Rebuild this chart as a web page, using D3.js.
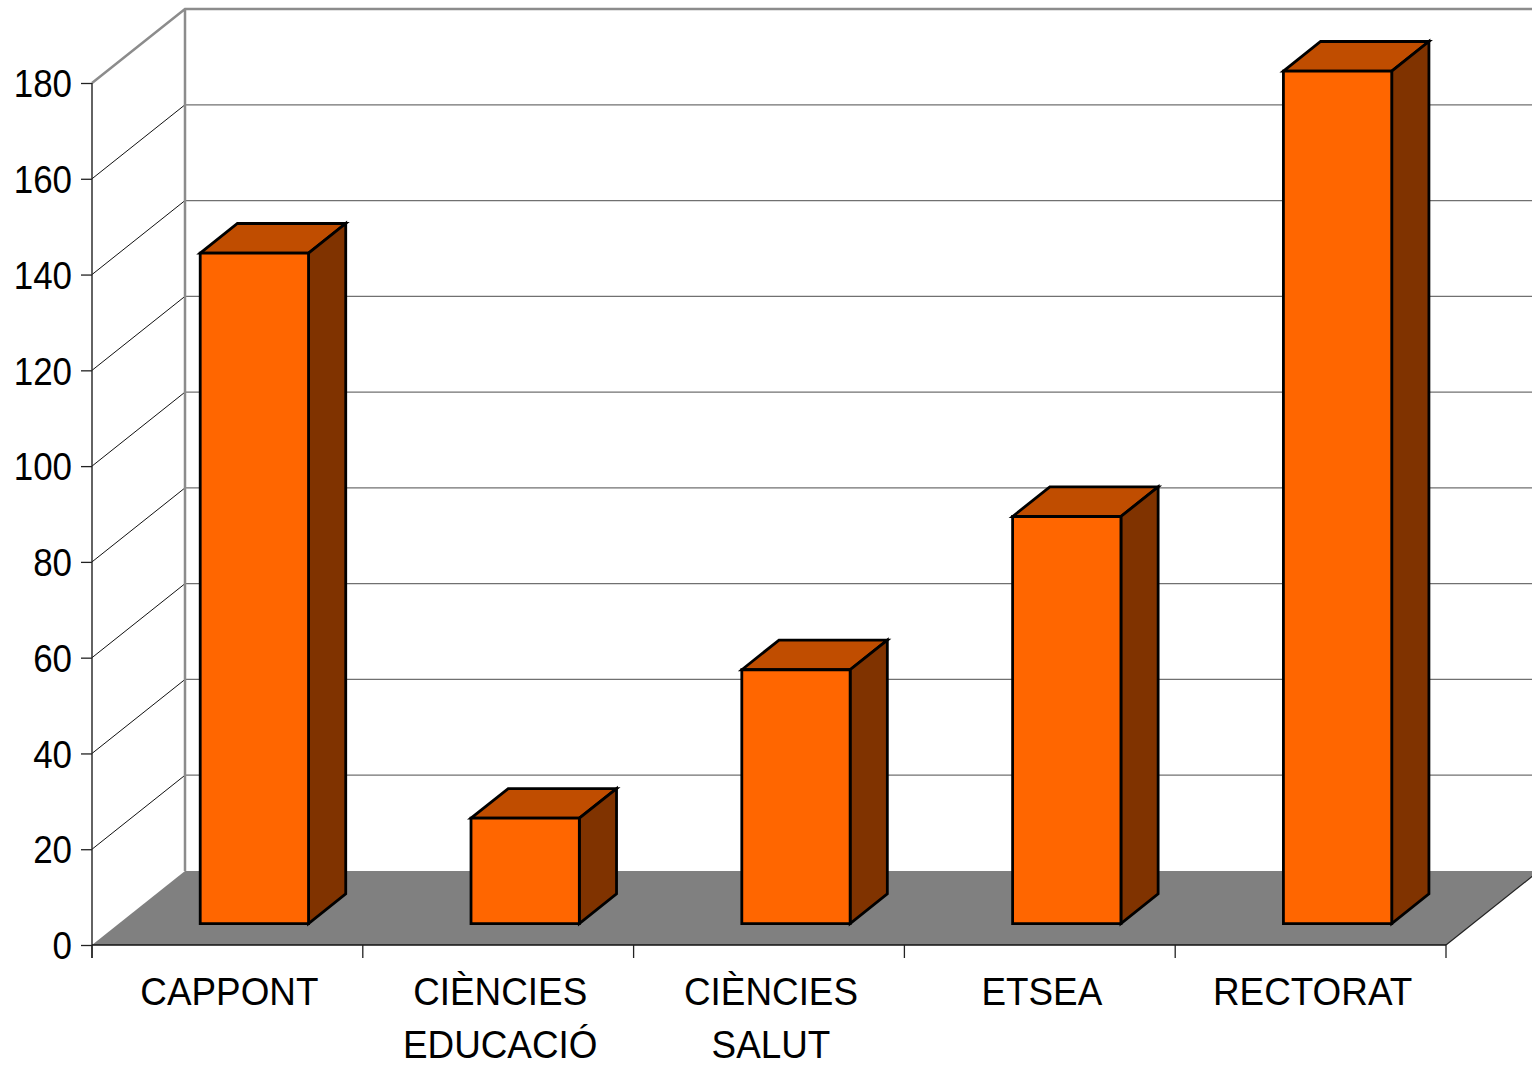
<!DOCTYPE html>
<html>
<head>
<meta charset="utf-8">
<script src="https://cdn.jsdelivr.net/npm/d3@7"></script>
<style>
    body { margin: 0; background: #fff; }
    text { font-family: "Liberation Sans", Arial, sans-serif; }
</style>
</head>
<body>
<div id="chart"></div>
<script>
var categories = ['CAPPONT', 'CIÈNCIES EDUCACIÓ', 'CIÈNCIES SALUT', 'ETSEA', 'RECTORAT'];
var values = [140, 22, 53, 85, 178];
var yTicks = [0, 20, 40, 60, 80, 100, 120, 140, 160, 180];

var width = 1532, height = 1066;
// oblique projection of the depth axis (z = 0 front, z = 1 back wall)
var DEPTH_X = 93, DEPTH_Y = -74;
var BAR_Z0 = 0.29, BAR_Z1 = 0.69;

var svg = d3.select('#chart').append('svg')
    .attr('width', width)
    .attr('height', height);

var x = d3.scaleBand()
    .domain(categories)
    .range([92, 1446])
    .paddingInner(0)
    .paddingOuter(0);

var y = d3.scaleLinear()
    .domain([0, 180])
    .range([945, 83]);

function proj(px, v, z) {
    return [px + z * DEPTH_X, y(v) + z * DEPTH_Y];
}

function poly(points) {
    return 'M' + points.map(function(p) { return p[0] + ',' + p[1]; }).join('L') + 'Z';
}

var x0 = x.range()[0], x1 = x.range()[1];

// floor
svg.append('path')
    .attr('d', poly([proj(x0, 0, 0), proj(x0, 0, 1), proj(x1, 0, 1), proj(x1, 0, 0)]))
    .attr('fill', '#808080');
svg.append('line')
    .attr('x1', proj(x1, 0, 0)[0]).attr('y1', proj(x1, 0, 0)[1])
    .attr('x2', proj(x1, 0, 1)[0]).attr('y2', proj(x1, 0, 1)[1])
    .attr('stroke', '#222').attr('stroke-width', 1.2);

// back wall grid lines
svg.append('g').selectAll('line')
    .data(yTicks.filter(function(v) { return v > 0 && v < 180; }))
    .enter().append('line')
    .attr('x1', function(v) { return proj(x0, v, 1)[0]; })
    .attr('y1', function(v) { return proj(x0, v, 1)[1]; })
    .attr('x2', width)
    .attr('y2', function(v) { return proj(x0, v, 1)[1]; })
    .attr('stroke', '#707070')
    .attr('stroke-width', 1.3);

// side wall diagonals
svg.append('g').selectAll('line')
    .data(yTicks.filter(function(v) { return v > 0 && v < 180; }))
    .enter().append('line')
    .attr('x1', function(v) { return proj(x0, v, 0)[0]; })
    .attr('y1', function(v) { return proj(x0, v, 0)[1]; })
    .attr('x2', function(v) { return proj(x0, v, 1)[0]; })
    .attr('y2', function(v) { return proj(x0, v, 1)[1]; })
    .attr('stroke', '#111')
    .attr('stroke-width', 1);

// wall outline
var top0 = proj(x0, 180, 0), top1 = proj(x0, 180, 1), bot1 = proj(x0, 0, 1);
svg.append('path')
    .attr('d', 'M' + top0 + 'L' + top1 + 'L' + (width + 5) + ',' + top1[1] + 'M' + top1 + 'L' + bot1)
    .attr('fill', 'none')
    .attr('stroke', '#8c8c8c')
    .attr('stroke-width', 2.5);

// bars
var bar = svg.append('g').selectAll('g')
    .data(categories.map(function(c, i) { return {key: c, value: values[i]}; }))
    .enter().append('g');

var barW = x.bandwidth() * 0.4;
function barLeft(d) { return x(d.key) + (x.bandwidth() - barW) / 2; }

bar.append('path')
    .attr('fill', '#c04d00')
    .attr('d', function(d) {
        var l = barLeft(d), r = l + barW;
        return poly([proj(l, d.value, BAR_Z0), proj(l, d.value, BAR_Z1),
                     proj(r, d.value, BAR_Z1), proj(r, d.value, BAR_Z0)]);
    });
bar.append('path')
    .attr('fill', '#803300')
    .attr('d', function(d) {
        var r = barLeft(d) + barW;
        return poly([proj(r, 0, BAR_Z0), proj(r, d.value, BAR_Z0),
                     proj(r, d.value, BAR_Z1), proj(r, 0, BAR_Z1)]);
    });
bar.append('path')
    .attr('fill', '#ff6600')
    .attr('d', function(d) {
        var l = barLeft(d), r = l + barW;
        return poly([proj(l, 0, BAR_Z0), proj(l, d.value, BAR_Z0),
                     proj(r, d.value, BAR_Z0), proj(r, 0, BAR_Z0)]);
    });
bar.selectAll('path')
    .attr('stroke', '#000')
    .attr('stroke-width', 2.8)
    .attr('stroke-linejoin', 'miter');

// y axis
var yAxis = svg.append('g')
    .attr('transform', 'translate(' + x0 + ',0)')
    .call(d3.axisLeft(y).tickValues(yTicks).tickSize(11).tickPadding(9).tickFormat(d3.format('d')));
yAxis.select('.domain').attr('stroke', '#222').attr('stroke-width', 1.4)
    .attr('d', 'M0,' + y(180) + 'V' + (y(0) + 13));
yAxis.selectAll('.tick line').attr('stroke', '#222').attr('stroke-width', 1.3);
// labels in the original are slightly condensed
yAxis.selectAll('.tick text')
    .attr('font-size', 38)
    .attr('font-family', '"Liberation Sans", Arial, sans-serif')
    .attr('fill', '#000')
    .attr('dy', '0.36em')
    .attr('transform', function() {
        var tx = +d3.select(this).attr('x');
        return 'translate(' + (tx * 0.08) + ',0) scale(0.92,1)';
    });

// x axis
var xAxis = svg.append('g');
xAxis.append('line')
    .attr('x1', x0).attr('x2', x1)
    .attr('y1', y(0)).attr('y2', y(0))
    .attr('stroke', '#111').attr('stroke-width', 1.4);
xAxis.selectAll('.xtick')
    .data(categories.concat(['__end']))
    .enter().append('line')
    .attr('class', 'xtick')
    .attr('x1', function(c) { return c === '__end' ? x1 : x(c); })
    .attr('x2', function(c) { return c === '__end' ? x1 : x(c); })
    .attr('y1', y(0)).attr('y2', y(0) + 13)
    .attr('stroke', '#222').attr('stroke-width', 1.3);

var label = xAxis.selectAll('.xlabel')
    .data(categories)
    .enter().append('text')
    .attr('class', 'xlabel')
    .attr('text-anchor', 'middle')
    .attr('font-size', 38)
    .attr('fill', '#000')
    .attr('transform', function(c) {
        return 'translate(' + (x(c) + x.bandwidth() / 2 + 2) + ',1005) scale(0.97,1)';
    });
label.selectAll('tspan')
    .data(function(c) { return c.split(' '); })
    .enter().append('tspan')
    .attr('x', 0)
    .attr('y', function(s, i) { return i * 53; })
    .text(function(s) { return s; });
</script>
</body>
</html>
